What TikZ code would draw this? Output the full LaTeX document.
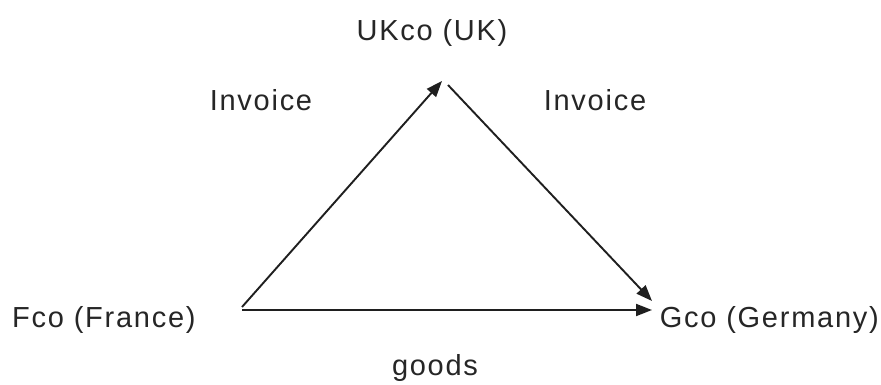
\documentclass[tikz,border=0pt]{standalone}
\usepackage{fontspec}
\setmainfont{Liberation Sans}[LetterSpace=6]
\usetikzlibrary{arrows.meta}
\begin{document}
\begin{tikzpicture}[x=1pt,y=-1pt,
  lbl/.style={inner sep=0pt,font=\fontsize{29}{32}\selectfont,text=black!85},
  conn/.style={line width=1.9pt,draw=black!88,-{Triangle[length=16pt,width=12pt]}}]
\useasboundingbox[fill=white] (0,0) rectangle (881,385);
\node[lbl,anchor=base west] (fco) at (12,327) {Fco (France)};
\node[lbl,anchor=base east] (gco) at (879,327) {Gco (Germany)};
\node[lbl,anchor=base] (uk) at (432,41) {UKco (UK)};
\node[lbl,anchor=base] (inv1) at (261,111) {Invoice};
\node[lbl,anchor=base] (inv2) at (595,111) {Invoice};
\node[lbl,anchor=base] (goods) at (435,375) {goods};
\coordinate (a1) at (242,307);
\coordinate (a2) at (442,81);
\coordinate (b1) at (448,85);
\coordinate (b2) at (652,301);
\coordinate (c1) at (242,310);
\coordinate (c2) at (652,310);
\draw[conn] (a1) -- (a2);
\draw[conn] (b1) -- (b2);
\draw[conn] (c1) -- (c2);
\end{tikzpicture}
\end{document}
